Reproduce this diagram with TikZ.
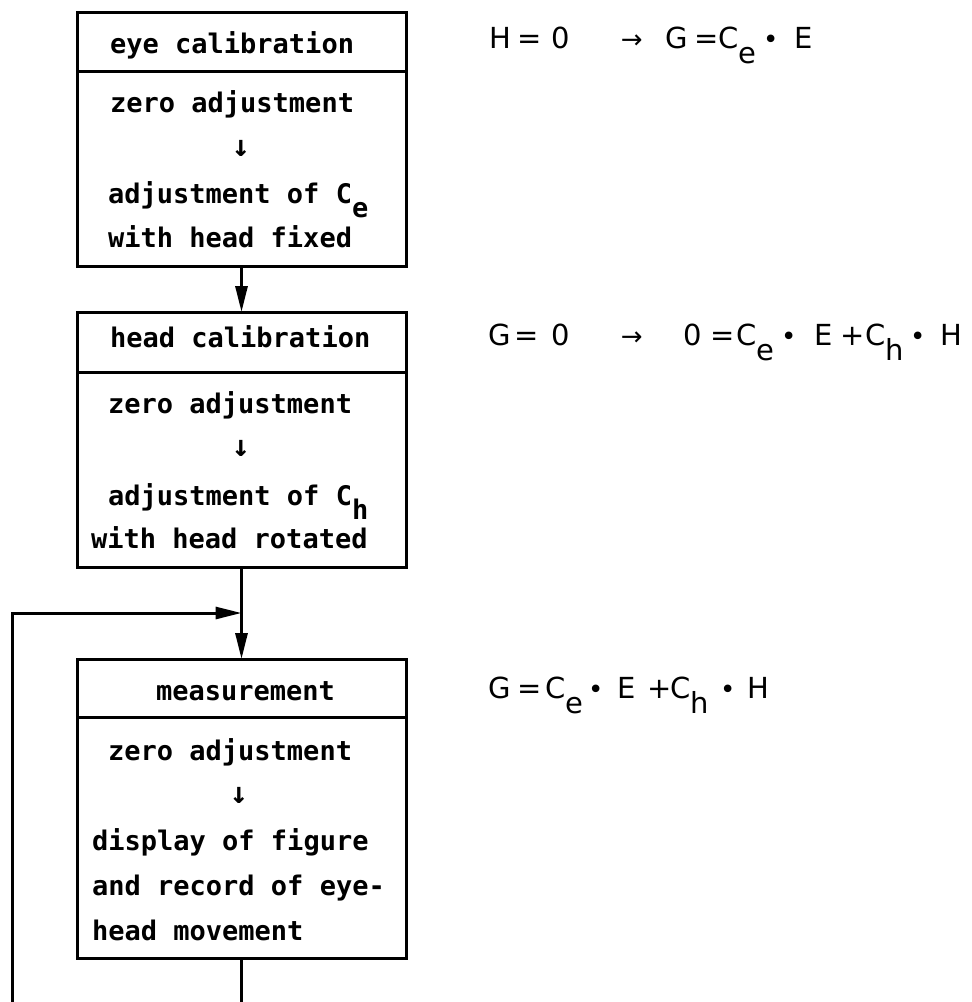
\documentclass[tikz,border=0pt]{standalone}
\usepackage{fontspec}
\usetikzlibrary{arrows.meta}
\newfontfamily\boxfont{DejaVu Sans Mono}
\newfontfamily\eqfont{DejaVu Sans}
\newcommand\gl[2]{\makebox[0pt][l]{\kern#1pt#2}}
\newcommand\glc[2]{\makebox[0pt][l]{\kern#1pt\makebox[0pt][c]{#2}}}
\newcommand\esub[1]{\raisebox{-15pt}{#1}}
\newcommand\bsub[1]{\raisebox{-14pt}{#1}}
\newcommand\eqarrow{{\fontsize{26}{26}\selectfont →}}
\newcommand\eqdot{{\fontsize{26}{26}\selectfont •}}
\begin{document}
\begin{tikzpicture}[x=1pt,y=-1pt,
  box/.style={draw, line width=3pt, anchor=north west, minimum width=329pt, inner sep=0pt, outer sep=0pt},
  btxt/.style={anchor=base west, inner sep=0pt, font=\boxfont\bfseries\fontsize{27}{27}\selectfont},
  barr/.style={anchor=center, inner sep=0pt, font=\boxfont\bfseries\fontsize{30}{30}\selectfont},
  eq/.style={anchor=base west, inner sep=0pt, font=\eqfont\fontsize{29}{29}\selectfont},
  conn/.style={line width=3pt},
  arr/.style={conn, -{Triangle[length=26pt,width=12pt]}}]
\path[fill=white, use as bounding box] (0,0) rectangle (972,1002);

% boxes
\node[box, minimum height=254pt] (b1) at (77,12) {};
\node[box, minimum height=255pt] (b2) at (77,312) {};
\node[box, minimum height=299pt] (b3) at (77,659) {};
\coordinate (d1) at (0,71);
\coordinate (d2) at (0,372);
\coordinate (d3) at (0,717);
\draw[conn] (b1.west |- d1) -- (b1.east |- d1);
\draw[conn] (b2.west |- d2) -- (b2.east |- d2);
\draw[conn] (b3.west |- d3) -- (b3.east |- d3);

% box 1 text
\node[btxt] (t1) at (110,53) {eye calibration};
\node[btxt] (z1) at (110,112) {zero adjustment};
\node[barr] (a1) at (241,148) {↓};
\node[btxt] (c1) at (108,203) {adjustment of C\bsub{e}};
\node[btxt] (w1) at (108,247) {with head fixed};

% box 2 text
\node[btxt] (t2) at (110,347) {head calibration};
\node[btxt] (z2) at (108,413) {zero adjustment};
\node[barr] (a2) at (241,448) {↓};
\node[btxt] (c2) at (108,505) {adjustment of C\bsub{h}};
\node[btxt] (w2) at (91,548) {with head rotated};

% box 3 text
\node[btxt] (t3) at (156,700) {measurement};
\node[btxt] (z3) at (108,760) {zero adjustment};
\node[barr] (a3) at (239,795) {↓};
\node[btxt] (l31) at (92,850) {display of figure};
\node[btxt] (l32) at (92,895) {and record of eye-};
\node[btxt] (l33) at (92,940) {head movement};

% equations
\node[eq] (eq1) at (488,48) {\gl{1}{H}\gl{29}{=}\gl{63}{0}\glc{143}{\eqarrow}\gl{177}{G}\gl{206}{=}\gl{230}{C}\gl{250}{\esub{e}}\glc{282}{\eqdot}\gl{306}{E}};
\node[eq] (eq2) at (488,345) {\gl{0}{G}\gl{26}{=}\gl{63}{0}\glc{143}{\eqarrow}\gl{195}{0}\gl{222}{=}\gl{248}{C}\gl{268}{\esub{e}}\glc{300}{\eqdot}\gl{326}{E}\gl{352}{+}\gl{377}{C}\gl{397}{\esub{h}}\glc{429}{\eqdot}\gl{452}{H}};
\node[eq] (eq3) at (488,698) {\gl{0}{G}\gl{29}{=}\gl{57}{C}\gl{77}{\esub{e}}\glc{107}{\eqdot}\gl{129}{E}\gl{159}{+}\gl{182}{C}\gl{202}{\esub{h}}\glc{239}{\eqdot}\gl{259}{H}};

% connectors
\coordinate (jy) at (0,613);
\coordinate (j) at (b2.south |- jy);
\coordinate (fb) at (12,1010);
\coordinate (bot) at (0,1010);
\coordinate (e3) at (b3.south |- bot);
\draw[arr] (b1.south) -- (b2.north);
\draw[conn] (b2.south) -- (j);
\draw[arr] (j) -- (b3.north);
\draw[arr] (fb) |- (j);
\draw[conn] (b3.south) -- (e3);
\end{tikzpicture}
\end{document}
